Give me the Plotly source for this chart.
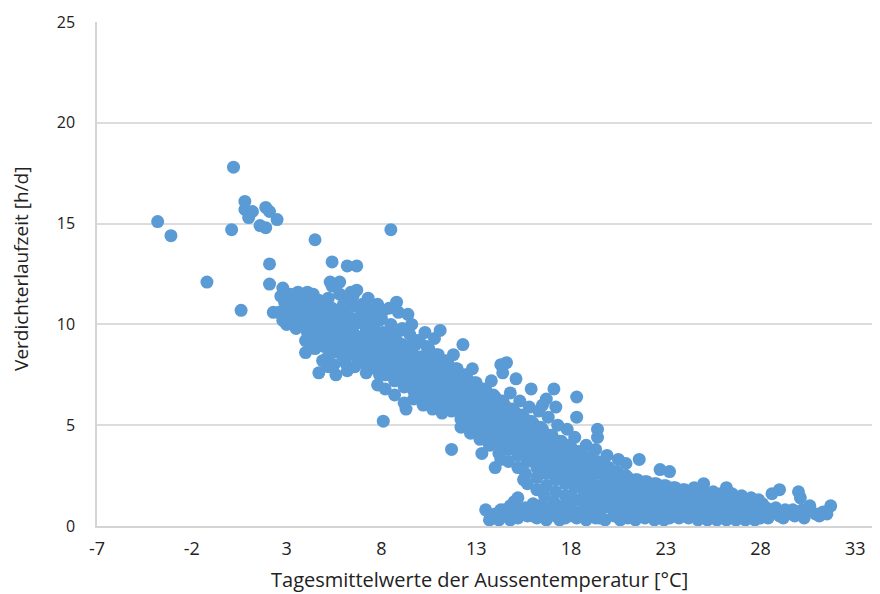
import plotly.graph_objects as go

# Tagesmittelwerte der Aussentemperatur [°C] vs. Verdichterlaufzeit [h/d]
outliers = [
    (0.2, 17.8), (-3.8, 15.1), (-3.1, 14.4), (0.1, 14.7), (-1.2, 12.1), (0.6, 10.7),
    (0.8, 16.1), (0.8, 15.7), (1.0, 15.3), (1.2, 15.6), (1.9, 15.8), (2.1, 15.6),
    (2.5, 15.2), (1.6, 14.9), (1.9, 14.8), (4.5, 14.2), (5.4, 13.1), (2.1, 13.0),
    (2.1, 12.0), (2.8, 11.8), (5.3, 12.1), (2.3, 10.6), (6.2, 12.9), (6.7, 12.9),
    (8.5, 14.7), (8.1, 5.2), (11.7, 3.8), (13.3, 3.6),
]

band_cold = [
    (2.6, 10.6), (2.8, 10.2), (2.9, 11.1), (3.0, 10.4), (3.1, 10.8), (2.7, 11.4), (3.2, 11.5), (3.0, 10.0),
    (3.4, 11.0), (3.5, 10.3), (3.6, 11.6), (3.4, 10.0), (3.7, 10.7), (3.5, 9.8), (3.8, 11.2),
    (4.0, 10.5), (4.1, 9.6), (4.2, 11.3), (3.9, 10.1), (4.3, 10.9), (4.0, 8.6), (4.2, 9.1), (4.4, 10.2), (4.1, 11.6),
    (4.5, 9.8), (4.6, 10.6), (4.7, 11.2), (4.5, 8.8), (4.8, 9.3), (4.6, 10.1), (4.9, 11.0), (4.7, 7.6), (4.9, 8.2), (4.4, 11.5),
    (5.0, 10.4), (5.1, 9.6), (5.2, 11.3), (5.0, 8.9), (5.3, 10.0), (5.1, 8.3), (5.4, 10.8), (5.2, 7.9), (5.5, 9.2), (5.4, 11.9),
    (5.6, 10.3), (5.7, 9.0), (5.8, 11.5), (5.6, 7.5), (5.9, 8.5), (5.7, 9.7), (5.9, 10.8), (5.5, 8.0), (5.8, 12.1),
    (6.0, 9.4), (6.1, 10.6), (6.2, 8.8), (6.0, 11.0), (6.3, 9.9), (6.1, 8.1), (6.4, 11.6), (6.2, 7.7), (6.4, 10.3), (6.3, 9.0),
    (6.5, 9.6), (6.6, 10.9), (6.7, 8.4), (6.5, 11.4), (6.8, 9.2), (6.6, 7.9), (6.9, 10.4), (6.7, 11.7), (6.9, 8.8), (6.6, 10.0),
    (7.0, 9.1), (7.1, 10.2), (7.2, 8.0), (7.0, 11.0), (7.3, 9.6), (7.1, 8.6), (7.4, 10.7), (7.2, 7.6), (7.4, 9.0), (7.3, 11.3),
    (7.5, 8.8), (7.6, 9.9), (7.7, 7.8), (7.5, 10.6), (7.8, 9.3), (7.6, 8.3), (7.9, 10.2), (7.8, 7.0), (7.9, 8.7), (7.8, 11.0),
    (8.0, 8.5), (8.1, 9.6), (8.2, 7.5), (8.0, 10.3), (8.3, 9.0), (8.1, 8.0), (8.4, 10.8), (8.2, 6.8), (8.4, 8.4),
    (8.5, 8.2), (8.6, 9.4), (8.7, 7.2), (8.5, 10.0), (8.8, 8.7), (8.6, 7.7), (8.9, 10.6), (8.7, 6.5), (8.9, 9.1), (8.8, 11.1),
    (9.0, 7.9), (9.1, 9.0), (9.2, 6.9), (9.0, 9.7), (9.3, 8.4), (9.1, 7.4), (9.4, 10.5), (9.2, 6.1), (9.4, 8.9), (9.3, 5.8),
    (9.5, 7.6), (9.6, 8.7), (9.7, 6.7), (9.5, 9.5), (9.8, 8.1), (9.6, 7.1), (9.9, 9.2), (9.7, 6.3), (9.9, 7.8), (9.6, 10.0),
    (10.0, 7.3), (10.1, 8.4), (10.2, 6.5), (10.0, 9.2), (10.3, 7.8), (10.1, 6.9), (10.4, 8.9), (10.2, 6.0), (10.4, 7.5), (10.3, 9.6),
    (10.5, 7.0), (10.6, 8.0), (10.7, 6.2), (10.5, 8.8), (10.8, 7.5), (10.6, 6.6), (10.9, 8.5), (10.7, 5.8), (10.9, 7.2), (10.8, 9.3),
    (11.0, 6.7), (11.1, 7.7), (11.2, 5.9), (11.0, 8.5), (11.3, 7.2), (11.1, 6.3), (11.4, 8.2), (11.2, 5.6), (11.4, 6.9), (11.1, 9.7),
    (11.5, 6.4), (11.6, 7.4), (11.7, 5.7), (11.5, 8.1), (11.8, 6.9), (11.6, 6.0), (11.9, 7.8), (11.9, 6.5), (11.8, 8.5),
    (12.0, 6.1), (12.1, 7.1), (12.2, 5.3), (12.0, 7.8), (12.3, 6.6), (12.1, 5.7), (12.4, 7.5), (12.2, 4.9), (12.4, 6.2), (12.3, 9.0),
    (12.5, 5.8), (12.6, 6.8), (12.7, 5.0), (12.5, 7.4), (12.8, 6.3), (12.6, 5.4), (12.9, 7.1), (12.7, 4.6), (12.9, 5.9), (12.8, 7.8),
    (13.0, 5.5), (13.1, 6.4), (13.2, 4.7), (13.0, 7.1), (13.3, 6.0), (13.1, 5.1), (13.4, 6.8), (13.2, 4.3), (13.4, 5.6),
    (3.3, 10.5), (3.9, 10.8), (4.3, 9.8), (4.8, 10.4), (5.3, 9.1), (5.5, 10.6), (6.0, 10.1), (6.3, 8.5), (6.8, 10.1),
    (7.0, 8.3), (7.3, 8.4), (7.7, 9.5), (8.2, 9.2), (8.6, 8.6), (9.0, 8.6), (9.3, 7.1), (9.8, 7.4), (10.1, 7.9),
    (10.6, 7.4), (11.2, 7.0), (11.6, 6.7), (12.1, 6.6), (12.6, 6.0), (13.1, 5.7), (3.6, 10.2), (4.5, 10.9), (5.1, 10.9),
    (5.9, 9.3), (6.5, 8.7), (7.5, 9.4), (8.3, 8.2), (8.8, 7.9), (9.5, 8.3), (10.3, 6.6), (10.8, 6.8), (11.3, 6.1),
    (11.8, 7.4), (12.3, 5.5), (12.8, 5.6), (4.2, 10.4), (5.6, 9.6), (6.4, 9.5), (7.1, 9.5), (7.9, 9.0), (8.5, 9.1),
    (9.2, 8.0), (9.9, 6.9), (10.5, 7.7), (11.0, 7.2), (11.5, 7.1), (12.0, 6.6), (12.5, 6.4), (13.0, 6.0),
    (3.2, 10.9), (3.7, 11.4), (4.0, 9.2), (4.4, 9.5), (4.9, 9.8), (5.2, 10.2), (5.4, 8.6), (5.8, 10.0), (6.1, 9.7),
    (6.2, 11.2), (6.6, 9.3), (7.0, 10.6), (7.2, 9.8), (7.4, 8.1), (7.6, 10.4), (7.9, 7.5), (8.1, 10.7), (8.4, 9.6),
    (8.7, 8.0), (8.9, 8.3), (9.1, 9.8), (9.3, 7.6), (9.6, 7.9), (9.8, 9.0), (10.0, 8.1), (10.2, 7.0), (10.4, 8.2),
    (10.7, 7.9), (10.9, 6.4), (11.1, 8.0), (11.3, 6.6), (11.5, 7.5), (11.7, 6.2), (11.9, 7.1), (12.2, 6.0), (12.4, 6.9),
    (12.7, 5.3), (12.9, 6.5), (13.2, 5.4), (13.3, 6.6),
]

band_mild = [
    (13.5, 5.2), (13.6, 6.1), (13.7, 4.4), (13.5, 6.8), (13.8, 5.7), (13.6, 4.8), (13.9, 6.5), (13.7, 4.0), (13.9, 5.3), (13.8, 7.2),
    (14.0, 4.9), (14.1, 5.8), (14.2, 4.1), (14.0, 6.4), (14.3, 5.4), (14.1, 4.5), (14.4, 6.2), (14.2, 3.6), (14.4, 5.0), (14.0, 2.9),
    (14.3, 3.3), (14.6, 8.1), (14.3, 8.0), (14.4, 7.6),
    (14.5, 4.6), (14.6, 5.5), (14.7, 3.8), (14.5, 6.0), (14.8, 5.1), (14.6, 4.2), (14.9, 5.8), (14.7, 3.2), (14.9, 4.7), (14.8, 6.6), (15.1, 7.3),
    (15.0, 4.3), (15.1, 5.2), (15.2, 3.5), (15.0, 5.7), (15.3, 4.8), (15.1, 3.9), (15.4, 5.5), (15.2, 2.9), (15.4, 4.4), (15.3, 6.2), (15.2, 1.4), (15.5, 2.3),
    (15.5, 4.0), (15.6, 4.9), (15.7, 3.2), (15.5, 5.4), (15.8, 4.5), (15.6, 3.6), (15.9, 5.2), (15.7, 2.1), (15.9, 4.1), (15.8, 5.9), (15.9, 6.8), (15.6, 2.6),
    (16.0, 3.7), (16.1, 4.6), (16.2, 2.9), (16.0, 5.1), (16.3, 4.2), (16.1, 3.3), (16.4, 4.9), (16.2, 2.4), (16.4, 3.8), (16.3, 5.7), (16.7, 6.3), (16.5, 6.0), (16.2, 1.8),
    (16.5, 3.4), (16.6, 4.3), (16.7, 2.6), (16.5, 4.8), (16.8, 3.9), (16.6, 3.0), (16.9, 4.5), (16.7, 2.0), (16.9, 3.5), (16.8, 5.4), (17.1, 6.8), (17.2, 5.9), (16.6, 1.5),
    (17.0, 3.1), (17.1, 4.0), (17.2, 2.3), (17.0, 4.5), (17.3, 3.6), (17.1, 2.7), (17.4, 4.2), (17.2, 1.7), (17.4, 3.2), (17.3, 5.0), (17.1, 1.2),
    (17.5, 2.9), (17.6, 3.7), (17.7, 2.1), (17.5, 4.2), (17.8, 3.3), (17.6, 2.5), (17.9, 4.0), (17.7, 1.5), (17.9, 3.0), (17.8, 4.8), (17.6, 1.0),
    (18.0, 2.6), (18.1, 3.4), (18.2, 1.9), (18.0, 3.9), (18.3, 3.1), (18.1, 2.2), (18.4, 3.7), (18.2, 1.3), (18.4, 2.8), (18.3, 6.4), (18.3, 5.4), (18.2, 4.4), (18.0, 0.9),
    (18.5, 2.4), (18.6, 3.2), (18.7, 1.7), (18.5, 3.6), (18.8, 2.9), (18.6, 2.0), (18.9, 3.4), (18.7, 1.1), (18.9, 2.6), (18.8, 4.0),
    (19.0, 2.2), (19.1, 2.9), (19.2, 1.5), (19.0, 3.3), (19.3, 2.6), (19.1, 1.8), (19.4, 3.2), (19.2, 1.0), (19.4, 4.8), (19.4, 4.4), (19.3, 3.8),
    (13.6, 5.5), (14.1, 5.2), (14.6, 4.9), (15.1, 4.6), (15.6, 4.3), (16.1, 4.0), (16.6, 3.7), (17.1, 3.4), (17.6, 3.1),
    (18.1, 2.8), (18.6, 2.6), (19.1, 2.4), (13.8, 4.5), (14.3, 4.4), (14.8, 4.1), (15.3, 3.8), (15.8, 3.5), (16.3, 3.1),
    (16.8, 2.8), (17.3, 2.5), (17.8, 2.3), (18.3, 2.0), (18.8, 1.8), (19.3, 1.6),
    (13.9, 5.9), (14.2, 4.8), (14.5, 5.3), (14.8, 4.5), (15.0, 4.9), (15.3, 4.2), (15.6, 3.9), (15.9, 3.6), (16.2, 3.5),
    (16.5, 4.2), (16.9, 3.1), (17.2, 2.9), (17.5, 3.4), (17.9, 2.6), (18.3, 2.5), (18.7, 2.3), (19.2, 2.0), (15.4, 5.0),
    (16.0, 4.4), (16.8, 3.3),
]

band_warm = [
    (19.5, 2.0), (19.6, 2.7), (19.7, 1.4), (19.5, 3.1), (19.8, 2.4), (19.6, 1.7), (19.9, 2.9), (19.7, 0.9), (19.9, 3.5),
    (20.0, 1.9), (20.1, 2.5), (20.2, 1.3), (20.0, 2.9), (20.3, 2.2), (20.1, 1.6), (20.4, 2.7), (20.2, 0.8), (20.5, 3.3),
    (20.5, 1.7), (20.6, 2.3), (20.7, 1.2), (20.5, 2.6), (20.8, 2.0), (20.6, 1.4), (20.9, 2.5), (20.7, 0.7), (20.9, 3.1),
    (21.0, 1.6), (21.1, 2.1), (21.2, 1.1), (21.0, 2.4), (21.3, 1.9), (21.1, 1.3), (21.4, 2.3), (21.2, 0.6), (21.6, 3.3),
    (21.5, 1.5), (21.6, 2.0), (21.7, 1.0), (21.5, 2.3), (21.8, 1.8), (21.6, 1.2), (21.9, 2.2), (21.7, 0.6),
    (22.0, 1.4), (22.1, 1.9), (22.2, 0.9), (22.0, 2.2), (22.3, 1.7), (22.1, 1.1), (22.4, 2.1), (22.2, 0.5), (22.7, 2.8), (23.2, 2.7),
    (22.5, 1.3), (22.6, 1.8), (22.7, 0.9), (22.5, 2.1), (22.8, 1.6), (22.6, 1.0), (22.9, 2.0), (22.7, 0.5),
    (23.0, 1.3), (23.1, 1.7), (23.2, 0.8), (23.0, 2.0), (23.3, 1.5), (23.1, 1.0), (23.4, 1.9), (23.2, 0.4),
    (23.5, 1.2), (23.6, 1.6), (23.7, 0.8), (23.5, 1.9), (23.8, 1.4), (23.6, 0.9), (23.9, 1.8), (23.7, 0.4),
    (24.0, 1.1), (24.1, 1.5), (24.2, 0.7), (24.0, 1.8), (24.3, 1.3), (24.1, 0.9), (24.4, 1.7), (24.2, 0.4),
    (24.5, 1.1), (24.6, 1.5), (24.7, 0.7), (24.5, 1.9), (24.8, 1.3), (24.6, 0.8), (24.9, 1.7), (24.7, 0.3), (25.0, 2.1),
    (25.0, 1.0), (25.1, 1.4), (25.2, 0.6), (25.0, 1.7), (25.3, 1.2), (25.1, 0.8), (25.4, 1.6), (25.2, 0.3),
    (25.5, 1.0), (25.6, 1.4), (25.7, 0.6), (25.5, 1.7), (25.8, 1.2), (25.6, 0.8), (25.9, 1.6), (25.7, 0.3),
    (26.0, 0.9), (26.1, 1.3), (26.2, 0.6), (26.0, 1.6), (26.3, 1.1), (26.1, 0.7), (26.4, 1.5), (26.2, 0.3), (26.2, 1.9),
    (26.5, 0.9), (26.6, 1.3), (26.7, 0.5), (26.5, 1.6), (26.8, 1.1), (26.6, 0.7), (26.9, 1.4), (26.7, 0.3),
    (27.0, 0.8), (27.1, 1.2), (27.2, 0.5), (27.0, 1.5), (27.3, 1.0), (27.1, 0.7), (27.4, 1.3), (27.2, 0.3),
    (27.5, 0.8), (27.6, 1.2), (27.7, 0.5), (27.5, 1.4), (27.8, 1.0), (27.6, 0.6), (27.9, 1.3), (27.7, 0.3),
    (28.0, 0.8), (28.1, 1.1), (28.2, 0.5), (28.3, 0.9), (28.4, 0.4), (28.6, 1.6), (28.5, 0.7),
    (29.0, 1.8), (29.0, 0.5), (29.4, 0.6), (29.2, 0.4), (29.7, 0.8), (30.0, 1.7), (30.1, 1.4), (30.3, 0.4),
    (30.6, 1.0), (30.4, 0.7), (30.9, 0.6), (31.3, 0.7), (31.5, 0.6), (31.7, 1.0), (31.1, 0.5),
    (18.0, 1.5), (18.5, 1.3), (19.0, 1.2), (19.5, 1.1), (20.0, 1.0), (20.5, 0.9), (21.0, 0.9), (21.5, 0.8), (22.0, 0.7),
    (22.5, 0.7), (23.0, 0.6), (23.5, 0.6), (24.0, 0.6), (24.5, 0.5), (25.0, 0.5), (25.5, 0.5), (26.0, 0.5), (26.5, 0.5),
    (27.0, 0.4), (27.5, 0.4), (28.0, 0.4), (19.2, 0.7), (19.8, 1.3), (20.4, 1.1), (21.3, 0.5), (22.3, 1.2), (23.3, 1.1),
    (24.3, 1.0), (25.3, 0.9), (26.3, 0.9), (27.3, 0.8), (28.2, 0.7), (28.8, 0.9), (29.3, 0.8), (29.8, 0.5), (30.2, 0.8),
]

low_cluster = [
    (13.5, 0.8), (13.7, 0.3), (14.0, 0.6), (14.3, 0.8), (14.6, 0.5), (14.9, 0.7), (15.2, 0.4), (15.4, 0.8),
    (15.7, 0.5), (15.9, 0.9), (16.2, 0.4), (16.4, 0.7), (16.7, 0.3), (16.9, 0.8), (17.2, 0.5), (17.4, 0.3),
    (17.8, 0.6), (18.3, 0.4), (18.5, 0.7), (18.8, 0.3), (19.1, 0.6), (19.5, 0.4), (19.8, 0.3), (20.3, 0.5),
    (20.6, 0.3), (21.0, 0.4), (21.4, 0.3), (21.9, 0.4), (22.4, 0.3), (22.9, 0.3), (23.4, 0.5), (24.4, 0.5),
    (14.8, 1.0), (15.0, 1.2), (16.0, 1.1), (17.5, 0.8), (16.5, 1.0), (17.0, 0.9), (18.6, 0.5), (19.3, 0.4),
    (13.9, 0.4), (14.2, 0.3), (14.5, 0.8), (14.8, 0.3), (15.1, 0.7), (15.6, 0.9), (16.0, 0.5), (16.3, 1.0),
    (16.8, 0.5), (17.3, 0.8), (17.7, 0.4), (18.1, 0.5),
]

groups = [outliers, band_cold, band_mild, band_warm, low_cluster]
temperature = [p[0] for g in groups for p in g]
runtime = [p[1] for g in groups for p in g]

x_ticks = [-7, -2, 3, 8, 13, 18, 23, 28, 33]
y_ticks = [0, 5, 10, 15, 20, 25]

fig = go.Figure(go.Scatter(
    x=temperature, y=runtime, mode="markers",
    marker=dict(size=13, color="#5B9BD5", line=dict(width=0)),
    showlegend=False,
))

# The page body adds an 8px offset, so the figure is sized 872x586.
fig.update_layout(
    width=872, height=586,
    margin=dict(l=89, r=0, t=14, b=68),
    paper_bgcolor="white", plot_bgcolor="white",
    font=dict(family="Open Sans", color="#222222"),
    xaxis=dict(
        range=[-7, 34.3], tickvals=x_ticks, ticktext=[str(v) for v in x_ticks],
        showgrid=False, zeroline=False, showline=True, linecolor="#d4d4d4", linewidth=1.5,
        ticks="outside", ticklen=6, tickcolor="rgba(0,0,0,0)",
        tickfont=dict(family="Open Sans", size=18, color="#222222"),
        automargin=False, layer="below traces",
    ),
    yaxis=dict(
        range=[0, 25], tickvals=y_ticks,
        showgrid=True, gridcolor="#dcdcdc", gridwidth=1.5, zeroline=False,
        showline=True, linecolor="#d4d4d4", linewidth=1.5,
        ticks="outside", ticklen=17, tickcolor="rgba(0,0,0,0)",
        tickfont=dict(family="Open Sans", size=16, color="#222222"),
        automargin=False, layer="below traces",
    ),
    annotations=[
        dict(text="Tagesmittelwerte der Aussentemperatur [°C]", xref="paper", yref="paper",
             x=0.488, y=-0.107, xanchor="center", yanchor="middle", showarrow=False,
             font=dict(family="Open Sans", size=20, color="#222222")),
        dict(text="Verdichterlaufzeit [h/d]", xref="paper", yref="paper",
             x=-0.0971, y=0.51, xanchor="center", yanchor="middle", showarrow=False,
             textangle=-90, font=dict(family="Open Sans", size=19, color="#222222")),
    ],
)

fig.write_html("out.html")
